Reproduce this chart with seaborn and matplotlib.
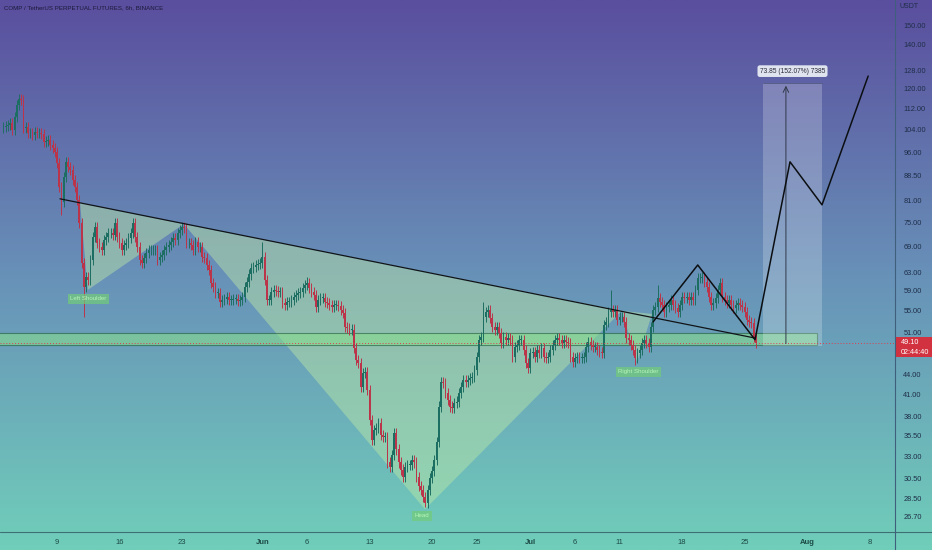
import numpy as np
import pandas as pd
import matplotlib
matplotlib.use("Agg")
import matplotlib.pyplot as plt
import matplotlib.dates as mdates
from matplotlib.patches import Rectangle, Polygon
from matplotlib.lines import Line2D
from matplotlib.ticker import NullLocator
import seaborn as sns

# COMP/USDT perp, 6h closes starting 2022-05-03 00:00 (one row = one day)
start = "2022-05-03 00:00"
closes = [
    104.9, 105.2, 105.6, 106.4,   # May 3
    103.8, 108.6, 113.3, 115.7,
    115.3, 104.5, 104.9, 102.7,
    102.7, 102.0, 103.1, 102.7,
    102.7, 102.3, 99.5, 99.8,
    100.2, 98.4, 97.4, 96.1,
    92.4, 85.0, 80.6, 88.0,       # May 9
    92.7, 91.1, 90.2, 87.1,
    85.0, 81.2, 74.9, 65.1,
    59.8, 62.0, 61.3, 65.8,
    71.3, 73.8, 69.8, 68.8,
    68.1, 70.5, 71.3, 72.3,
    72.3, 71.7, 74.9, 71.3,
    69.8, 68.1, 69.3, 69.8,       # May 16
    71.0, 72.3, 74.9, 71.3,
    68.8, 65.8, 65.1, 66.2,
    67.4, 68.1, 68.1, 68.1,
    68.1, 65.8, 66.5, 66.9,
    68.1, 68.8, 69.3, 70.0,
    71.0, 70.5, 72.3, 73.0,
    73.8, 73.6, 69.8, 69.8,       # May 23
    69.3, 68.1, 70.0, 68.8,
    68.8, 66.5, 66.2, 64.6,
    63.5, 60.7, 59.8, 58.6,
    58.6, 56.8, 57.2, 57.4,
    57.8, 57.2, 57.2, 57.4,
    57.4, 57.0, 57.2, 57.8,
    59.8, 60.9, 62.5, 63.9,       # May 30
    64.2, 64.6, 64.9, 65.1,
    66.5, 61.3, 57.2, 57.2,       # Jun 1
    58.8, 59.2, 59.0, 58.8,
    58.8, 56.6, 56.2, 56.8,
    56.8, 57.2, 57.8, 58.2,
    58.6, 58.8, 59.6, 60.2,
    60.7, 59.6, 58.8, 58.2,       # Jun 6
    55.8, 57.2, 57.6, 57.6,
    56.8, 56.6, 56.2, 55.8,
    56.2, 56.2, 56.0, 55.2,
    54.6, 52.0, 51.8, 51.5,
    51.5, 48.3, 46.3, 45.8,
    42.1, 44.2, 44.4, 41.7,
    37.5, 35.0, 36.2, 36.5,       # Jun 13
    37.1, 35.6, 35.3, 35.3,
    32.3, 31.8, 33.2, 35.8,
    33.8, 32.3, 31.5, 30.7,
    31.8, 32.0, 32.0, 32.6,
    32.3, 30.7, 29.7, 29.3,
    28.6, 28.0, 29.3, 30.6,
    31.3, 32.6, 34.7, 39.3,       # Jun 20
    42.9, 42.7, 41.2, 40.2,
    39.3, 39.1, 39.8, 40.0,
    41.2, 42.1, 43.2, 42.9,
    43.2, 43.5, 43.6, 44.7,
    46.8, 49.7, 50.2, 53.8,
    54.8, 55.2, 53.7, 52.0,
    51.5, 52.0, 50.9, 49.1,       # Jun 27
    50.2, 49.7, 50.0, 49.7,
    46.8, 48.5, 48.8, 49.7,
    49.7, 48.0, 45.8, 45.0,
    47.5, 47.6, 46.8, 48.0,       # Jul 1
    47.5, 48.3, 46.8, 46.6,
    46.8, 48.0, 48.8, 49.7,
    50.0, 49.7, 49.1, 49.7,
    49.3, 49.1, 46.8, 46.0,
    46.6, 46.8, 46.6, 46.6,       # Jul 6
    46.8, 48.5, 49.3, 48.8,
    48.5, 48.5, 48.0, 47.6,
    47.5, 52.4, 52.9, 54.8,
    55.2, 54.8, 55.2, 53.3,
    53.8, 53.8, 52.9, 50.0,
    49.7, 48.8, 48.0, 46.6,
    47.5, 48.0, 49.1, 49.7,       # Jul 13
    49.1, 48.5, 52.0, 55.2,
    55.8, 57.6, 56.8, 56.2,
    54.8, 55.8, 56.2, 57.2,
    56.2, 55.6, 54.8, 56.2,
    57.8, 57.6, 57.8, 57.2,
    57.8, 57.2, 59.2, 61.7,
    61.7, 62.0, 60.9, 59.8,       # Jul 20
    57.8, 56.2, 56.6, 57.6,
    59.2, 60.7, 57.8, 57.2,
    56.6, 57.2, 56.2, 55.6,
    56.2, 56.6, 56.2, 55.8,
    54.8, 53.3, 52.9, 52.7,
    50.2, 49.1,                   # Jul 26
]
first_open = 104.5
# candles with long wicks (index -> price)
high_wicks = {80: 75.2, 116: 70.0, 136: 62.0, 215: 56.8, 272: 59.2, 293: 60.2}
low_wicks = {26: 77.0, 36: 53.8, 189: 27.6, 283: 45.5}

neckline = [("2022-05-09 08:00", 81.5), ("2022-07-26 03:00", 50.0)]
shoulder_l = [("2022-05-11 14:00", 80.3), ("2022-05-12 11:00", 59.2), ("2022-05-23 05:00", 74.6)]
head = [("2022-05-23 05:00", 74.6), ("2022-06-19 05:00", 27.4), ("2022-07-11 06:00", 55.0)]
shoulder_r = [("2022-07-11 06:00", 55.0), ("2022-07-12 23:00", 46.0), ("2022-07-14 15:00", 54.4)]
projection = [("2022-07-14 18:00", 52.9), ("2022-07-19 18:00", 64.6), ("2022-07-26 04:00", 49.7),
              ("2022-07-30 02:00", 92.8), ("2022-08-02 16:00", 79.8), ("2022-08-07 20:00", 125.4)]
support = ("2022-04-30", "2022-08-02 02:00", 48.8, 50.9)
target_box = ("2022-07-27 01:30", "2022-08-02 16:00", 48.56, 122.41)
target_arrow_x = "2022-07-29 15:00"
last_price = 49.10

xtick_dates = ["2022-05-09", "2022-05-16", "2022-05-23", "2022-06-01", "2022-06-06", "2022-06-13",
               "2022-06-20", "2022-06-25", "2022-07-01", "2022-07-06", "2022-07-11", "2022-07-18",
               "2022-07-25", "2022-08-01", "2022-08-08"]
xtick_labels = ["9", "16", "23", "Jun", "6", "13", "20", "25", "Jul", "6", "11", "18", "25", "Aug", "8"]
ytick_vals = [150, 140, 128, 120, 112, 104, 96, 88.5, 81, 75, 69, 63, 59, 55, 51,
              44, 41, 38, 35.5, 33, 30.5, 28.5, 26.7]

def dn(s):
    return mdates.date2num(pd.Timestamp(s))

sns.set_style("white")
plt.rcParams['font.family'] = ['Liberation Sans', 'DejaVu Sans']

W, H = 932, 550
fig = plt.figure(figsize=(W / 100, H / 100), dpi=100)

# gradient background
bg = fig.add_axes([0, 0, 1, 1], zorder=-10)
top_c = np.array([90, 78, 158]) / 255
mid_c = np.array([104, 145, 184]) / 255
bot_c = np.array([112, 206, 186]) / 255
t = np.linspace(0, 1, 300)[:, None]
grad = np.where(t < 0.5, top_c + (mid_c - top_c) * (t / 0.5), mid_c + (bot_c - mid_c) * ((t - 0.5) / 0.5))
bg.imshow(grad[:, None, :], aspect='auto', extent=[0, 1, 0, 1])
bg.axis('off')

ax = fig.add_axes([0, 18 / H, 895 / W, 1 - 18 / H])
ax.set_facecolor('none')
ax.set_yscale('log')

# candles
df = pd.DataFrame({'close': closes})
df['time'] = pd.date_range(start, periods=len(closes), freq='6h')
df['open'] = df['close'].shift(1).fillna(first_open)
df['high'] = df[['open', 'close']].max(axis=1) * 1.018
df['low'] = df[['open', 'close']].min(axis=1) / 1.018
for i, v in high_wicks.items():
    df.loc[i, 'high'] = v
for i, v in low_wicks.items():
    df.loc[i, 'low'] = v
df['x'] = mdates.date2num(df['time'])
up = df['close'] >= df['open']
colors = np.where(up, '#1d6e62', '#bb3449')
ax.vlines(df['x'], df['low'], df['high'], colors=colors, lw=0.7, zorder=3)
ax.bar(df['x'], (df['close'] - df['open']).abs().clip(lower=0.1),
       bottom=df[['open', 'close']].min(axis=1), width=0.2, color=colors, lw=0, zorder=4)

# head & shoulders fills
for tri in (shoulder_l, head, shoulder_r):
    pts = [(dn(d), p) for d, p in tri]
    ax.add_patch(Polygon(pts, closed=True, facecolor='#bfeaa6', alpha=0.45, edgecolor='none', zorder=1))

# support band
ax.add_patch(Rectangle((dn(support[0]), support[2]), dn(support[1]) - dn(support[0]),
                       support[3] - support[2], facecolor='#86dc8e', alpha=0.6,
                       edgecolor='#1f5a38', lw=0.8, zorder=2))
ax.axhline(last_price, color='#d8404f', ls=(0, (1, 2)), lw=0.7, zorder=5)

# target box
bx0, bx1, by0, by1 = target_box
ax.add_patch(Rectangle((dn(bx0), by0), dn(bx1) - dn(bx0), by1 - by0,
                       facecolor='white', alpha=0.22, edgecolor='none', zorder=2))
ax.plot([dn(bx0), dn(bx1)], [by1, by1], color='#505a80', lw=0.6, zorder=3)
ax.annotate('', xy=(dn(target_arrow_x), by1), xytext=(dn(target_arrow_x), by0),
            arrowprops=dict(arrowstyle='->', color='#303848', lw=0.7), zorder=6)
ax.text((dn(bx0) + dn(bx1)) / 2, 127.6, "73.85 (152.07%) 7385", fontsize=4.8,
        ha='center', va='center', color='#2a2a3a',
        bbox=dict(boxstyle='round,pad=0.35', fc='#e8ecf4', ec='none', alpha=0.95), zorder=7)

# lines
neck = pd.DataFrame(neckline, columns=['t', 'p'])
neck['x'] = neck['t'].map(dn)
sns.lineplot(data=neck, x='x', y='p', ax=ax, color='#101418', lw=0.9, estimator=None, sort=False, zorder=6)
proj = pd.DataFrame(projection, columns=['t', 'p'])
proj['x'] = proj['t'].map(dn)
sns.lineplot(data=proj, x='x', y='p', ax=ax, color='#0c0f12', lw=1.1, estimator=None, sort=False, zorder=6)

# pattern labels
lab = dict(fontsize=4.4, color='#b8f5b8', ha='center', va='center', zorder=7,
           bbox=dict(boxstyle='square,pad=0.4', fc='#72cc78', ec='none', alpha=0.7))
ax.text(dn("2022-05-12 12:00"), 57.4, "Left Shoulder", **lab)
ax.text(dn("2022-06-18 21:00"), 26.8, "Head", **lab)
ax.text(dn("2022-07-13 02:00"), 44.4, "Right Shoulder", **lab)

# axes
x0 = dn("2022-05-09") - 6.38
x1 = dn("2022-05-09") + 93.84
ax.set_xlim(x0, x1)
ax.set_ylim(25.3, 163.8)
ax.set_xticks([dn(d) for d in xtick_dates])
ax.set_xticklabels(xtick_labels)
for lbl in ax.get_xticklabels():
    if lbl.get_text() in ("Jun", "Jul", "Aug"):
        lbl.set_fontweight('bold')
ax.tick_params(axis='x', length=0, pad=5, labelsize=5.5, labelcolor='#1c4a44')
ax.yaxis.tick_right()
ax.set_yticks(ytick_vals)
ax.set_yticklabels([f"{v:.2f}" for v in ytick_vals])
ax.yaxis.set_minor_locator(NullLocator())
ax.tick_params(axis='y', length=0, pad=6, labelsize=5.3, labelcolor='#1e2e48')
for s in ax.spines.values():
    s.set_visible(False)
ax.set_xlabel('')
ax.set_ylabel('')
ax.grid(False)

fig.add_artist(Line2D([0, 1], [18 / H, 18 / H], transform=fig.transFigure, color='#3c6e74', lw=0.8))
fig.add_artist(Line2D([895 / W, 895 / W], [0, 1], transform=fig.transFigure, color='#3f5f7c', lw=0.8))

fig.text(4 / W, 1 - 8 / H, "COMP / TetherUS PERPETUAL FUTURES, 6h, BINANCE", fontsize=4.4,
         color='#1a1a3a', va='center', ha='left')
fig.text(900 / W, 1 - 7 / H, "USDT", fontsize=5, color='#1e2e48', va='center', ha='left')

# last price tag
fig.add_artist(Rectangle((896 / W, 1 - 357 / H), 36 / W, 20 / H, transform=fig.transFigure,
                         facecolor='#d2323f', edgecolor='none'))
fig.text(901 / W, 1 - 342 / H, "49.10", fontsize=5.2, color='white', va='center', ha='left')
fig.text(901 / W, 1 - 352 / H, "02:44:40", fontsize=5.2, color='white', va='center', ha='left')

fig.savefig("out.png", dpi=100)
